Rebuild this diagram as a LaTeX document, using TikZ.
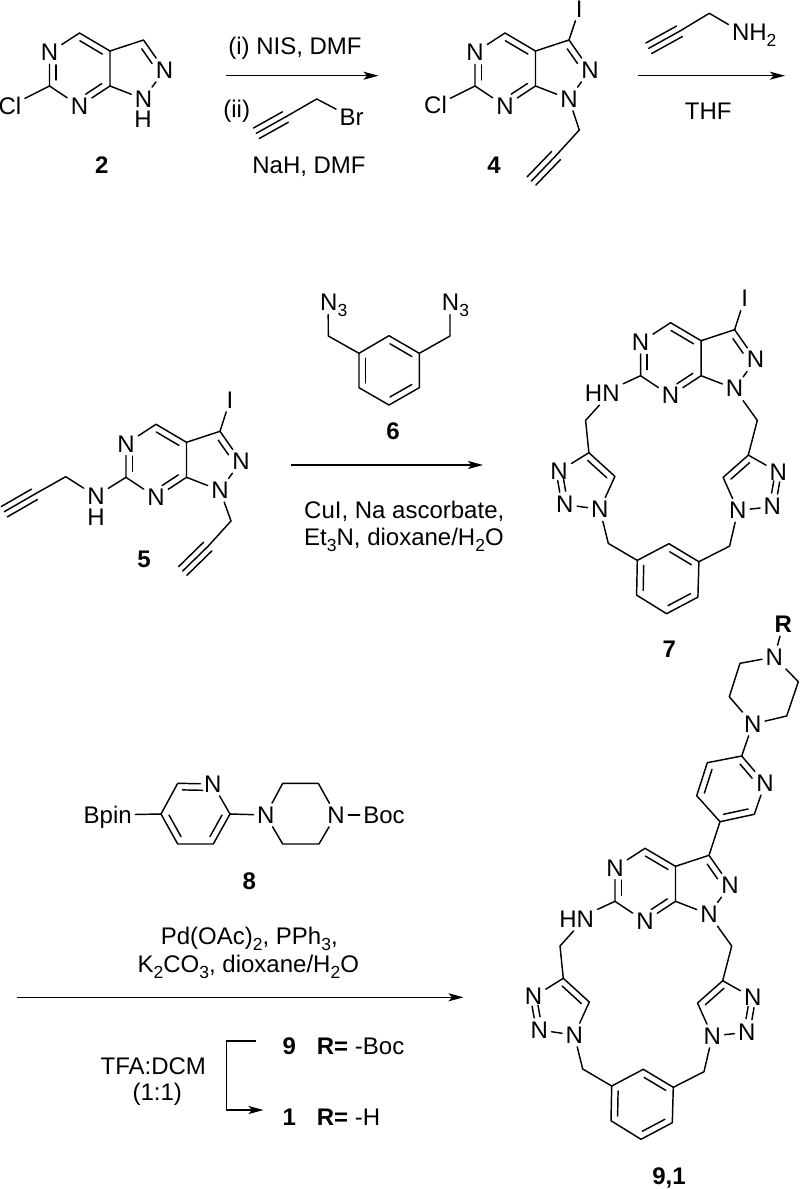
\documentclass[tikz,border=0pt]{standalone}
\usepackage{fontspec}
\setmainfont{Liberation Sans}
\usepackage{tikz}
\usetikzlibrary{calc}
\usetikzlibrary{arrows.meta}

\newcommand{\sbs}[1]{\raisebox{-0.24em}{\fontsize{17.5}{19}\selectfont #1}}
\newcommand{\sidebond}[5]{\draw[bond] ($(#1)!#4!(#2)!#3:(#2)$) -- ($(#1)!#5!(#2)!#3:(#2)$);}
\newcommand{\dbond}[4]{\sidebond{#1}{#2}{6.5pt!-90}{#3}{#4}}
\newcommand{\nnbond}[2]{\sidebond{#1}{#2}{3pt!90}{.27}{.62}\sidebond{#1}{#2}{3pt!-90}{.27}{.62}}
\newcommand{\tbond}[2]{\draw[bond] (#1) -- (#2);\sidebond{#1}{#2}{6pt!90}{0}{.98}\sidebond{#1}{#2}{6pt!-90}{0}{.98}}

\newcommand{\core}[3]{%
	\begin{scope}[shift={(#2,#3)}]
		\coordinate (#1c4) at (0,0);
		\node[atom] (#1n5) at (-30,19.5) {N};
		\coordinate (#1c3a) at (30.5,18);
		\coordinate (#1c6) at (-30,53);
		\node[atom] (#1n7) at (0,73) {N};
		\coordinate (#1c7a) at (30.5,53);
		\coordinate (#1c3) at (64,7);
		\node[atom] (#1n2) at (85,37) {N};
		\node[atom] (#1n1) at (64,66) {N};
		\draw[bond] (#1n5) -- (#1c4) -- (#1c3a) -- (#1c7a) -- (#1n7) -- (#1c6) -- (#1n5);
		\draw[bond] (#1c3a) -- (#1c3) -- (#1n2) -- (#1n1) -- (#1c7a);
		\dbond{#1c4}{#1c3a}{.12}{.86}
		\dbond{#1c7a}{#1n7}{.15}{.68}
		\dbond{#1c6}{#1n5}{.18}{.63}
		\dbond{#1c3}{#1n2}{.17}{.66}
	\end{scope}}

\newcommand{\macrocycle}[3]{%
	\core{#1}{#2+645}{#3+848.3}
	\begin{scope}[shift={(#2,#3)}]
		\node[atom] (#1hn) at (576.7,919) {HN};
		\coordinate (#1ch2a) at (560,946);
		\coordinate (#1ta4) at (563.3,978.3);
		\coordinate (#1ta5) at (589.3,1002);
		\node[atom] (#1ta1) at (574.3,1035) {N};
		\node[atom] (#1ta2) at (539.3,1030) {N};
		\node[atom] (#1ta3) at (533.5,996.7) {N};
		\coordinate (#1ch2b) at (731.7,946);
		\coordinate (#1tb4) at (722.7,980.7);
		\coordinate (#1tb5) at (697.5,1003);
		\node[atom] (#1tb1) at (712.3,1036) {N};
		\node[atom] (#1tb2) at (746.7,1032.3) {N};
		\node[atom] (#1tb3) at (752.7,997.7) {N};
		\coordinate (#1cha) at (582.7,1069);
		\coordinate (#1chb) at (704,1071.7);
		\coordinate (#1r1) at (611.7,1086);
		\coordinate (#1r2) at (643.3,1069.3);
		\coordinate (#1r3) at (673.3,1087.3);
		\coordinate (#1r4) at (672.3,1122.7);
		\coordinate (#1r5) at (641,1139.3);
		\coordinate (#1r6) at (611,1120.7);
		\draw[bond] (#1c6) -- (#1hn);
		\draw[bond] ([xshift=-3pt]#1hn.south) -- (#1ch2a) -- (#1ta4) -- (#1ta5) -- (#1ta1) -- (#1ta2);
		\draw[bond] (#1ta3) -- (#1ta4);
		\draw[bond] (#1n1) -- (#1ch2b) -- (#1tb4) -- (#1tb5) -- (#1tb1) -- (#1tb2);
		\draw[bond] (#1tb3) -- (#1tb4);
		\draw[bond] (#1ta1) -- (#1cha) -- (#1r1);
		\draw[bond] (#1r1) -- (#1r2) -- (#1r3) -- (#1r4) -- (#1r5) -- (#1r6) -- cycle;
		\draw[bond] (#1tb1) -- (#1chb) -- (#1r3);
		\dbond{#1ta4}{#1ta5}{.12}{.86}
		\dbond{#1tb5}{#1tb4}{.14}{.88}
		\nnbond{#1ta3}{#1ta2}
		\nnbond{#1tb3}{#1tb2}
		\dbond{#1r6}{#1r1}{.14}{.86}
		\dbond{#1r2}{#1r3}{.14}{.86}
		\dbond{#1r4}{#1r5}{.14}{.86}
	\end{scope}}

\begin{document}
\begin{tikzpicture}[x=1pt,y=-1pt,
		bond/.style={line width=1.45pt,line join=round,line cap=round},
		rxn/.style={line width=1.45pt,-{Stealth[length=15pt,width=8pt,inset=3.5pt]}},
		txt/.style={inner sep=0pt,text height=16.5pt,text depth=0pt,font=\fontsize{24}{28}\selectfont},
		atom/.style={txt,inner sep=3.4pt},
		num/.style={txt,font=\fontsize{24}{28}\selectfont\bfseries}]

	\useasboundingbox (0,0) rectangle (801,1189);

	\core{a}{79.5}{33}
	\node[atom] (acl) at (10,106) {Cl};
	\node[txt] (ah) at (143,119.5) {H};
	\draw[bond] (ac6) -- (acl);
	\node[num] (lab2) at (101.7,165.7) {2};

	\coordinate (arr1a) at (226,75.7);
	\coordinate (arr1b) at (378.5,75.7);
	\draw[rxn] (arr1a) -- (arr1b);
	\node[txt] (nis) at (295,46.3) {(i) NIS, DMF};
	\node[txt] (ii) at (236.7,109.5) {(ii)};
	\coordinate (bra) at (256.3,133.3);
	\coordinate (brb) at (286,116.7);
	\coordinate (brc) at (316.7,99);
	\node[atom] (brom) at (351.7,117.3) {Br};
	\tbond{bra}{brb}
	\draw[bond] (brb) -- (brc) -- (brom);
	\node[txt] (nah) at (309,165) {NaH, DMF};

	\core{b}{505}{33}
	\node[atom] (bcl) at (435.5,105.7) {Cl};
	\node[atom] (bi) at (579.3,9) {I};
	\coordinate (bch2) at (579.3,130);
	\coordinate (bya) at (556.5,155);
	\coordinate (byb) at (531.5,181);
	\draw[bond] (bc6) -- (bcl);
	\draw[bond] (bc3) -- (bi);
	\draw[bond] (bn1) -- (bch2) -- (bya);
	\tbond{byb}{bya}
	\node[num] (lab4) at (494,165) {4};

	\coordinate (arr2a) at (638.3,75.7);
	\coordinate (arr2b) at (785,75.7);
	\draw[rxn] (arr2a) -- (arr2b);
	\coordinate (ama) at (648.7,48.3);
	\coordinate (amb) at (680,31);
	\coordinate (amc) at (709.3,13.3);
	\node[atom] (amn) at (754.2,32.5) {NH\sbs{2}};
	\tbond{ama}{amb}
	\draw[bond] (amb) -- (amc) -- ([yshift=8pt]amn.west);
	\node[txt] (thf) at (708.3,111) {THF};

	\core{c}{156}{424.3}
	\node[atom] (ci) at (230,400) {I};
	\node[atom] (cnh) at (96,496) {N};
	\node[txt] (chh) at (96,516.9) {H};
	\coordinate (cch2a) at (65.7,476.7);
	\coordinate (cya) at (35,494);
	\coordinate (cyb) at (4.3,511.7);
	\coordinate (cch2b) at (231,521);
	\coordinate (czz) at (208.3,546);
	\coordinate (czy) at (182.7,571);
	\draw[bond] (cc3) -- (ci);
	\draw[bond] (cc6) -- (cnh) -- (cch2a) -- (cya);
	\tbond{cyb}{cya}
	\draw[bond] (cn1) -- (cch2b) -- (czz);
	\tbond{czy}{czz}
	\node[num] (lab5) at (144,559.3) {5};

	\coordinate (arr3a) at (291,465);
	\coordinate (arr3b) at (483,465);
	\draw[rxn] (arr3a) -- (arr3b);
	\node[atom] (aza) at (333.7,302.7) {N\sbs{3}};
	\node[atom] (azb) at (455.5,302.7) {N\sbs{3}};
	\coordinate (dch2a) at (328.3,336);
	\coordinate (dch2b) at (450,336);
	\coordinate (dr1) at (359,353.3);
	\coordinate (dr2) at (389,335.7);
	\coordinate (dr3) at (419.3,353.3);
	\coordinate (dr4) at (419.3,387.7);
	\coordinate (dr5) at (389,405);
	\coordinate (dr6) at (359,387.7);
	\draw[bond] ([xshift=-5.5pt]aza.south) -- (dch2a) -- (dr1);
	\draw[bond] (dr1) -- (dr2) -- (dr3) -- (dr4) -- (dr5) -- (dr6) -- cycle;
	\draw[bond] ([xshift=-5.5pt]azb.south) -- (dch2b) -- (dr3);
	\dbond{dr6}{dr1}{.14}{.86}
	\dbond{dr2}{dr3}{.14}{.86}
	\dbond{dr4}{dr5}{.14}{.86}
	\node[num] (lab6) at (393,431) {6};
	\node[txt,anchor=west] (cui) at (304,510) {CuI, Na ascorbate,};
	\node[txt,anchor=west] (et3n) at (304,537) {Et\sbs{3}N, dioxane/H\sbs{2}O};

	\macrocycle{d}{25.6}{-525.6}
	\node[atom] (di) at ($(dc3)+(10,-31)$) {I};
	\draw[bond] (dc3) -- (di);
	\node[num] (lab7) at (669.3,649.3) {7};

	\node[atom] (ebpin) at (107.7,815) {Bpin};
	\coordinate (ep1) at (161,814);
	\coordinate (ep2) at (177.7,783.3);
	\node[atom] (epn) at (212.7,784) {N};
	\coordinate (ep4) at (230,814);
	\coordinate (ep5) at (213.3,844);
	\coordinate (ep6) at (177.7,844);
	\node[atom] (ena) at (265.7,815) {N};
	\coordinate (eq1) at (282.7,783.3);
	\coordinate (eq2) at (318.3,783.3);
	\node[atom] (enb) at (336,815) {N};
	\coordinate (eq3) at (319,844);
	\coordinate (eq4) at (282.7,844);
	\node[atom] (eboc) at (384,815) {Boc};
	\draw[bond] (ebpin) -- (ep1) -- (ep2) -- (epn) -- (ep4) -- (ep5) -- (ep6) -- (ep1);
	\draw[bond] (ep4) -- (ena) -- (eq1) -- (eq2) -- (enb) -- (eq3) -- (eq4) -- (ena);
	\draw[bond] (enb) -- (eboc);
	\dbond{ep2}{epn}{.14}{.72}
	\dbond{ep4}{ep5}{.14}{.86}
	\dbond{ep6}{ep1}{.14}{.86}
	\node[num] (lab8) at (249.3,881.7) {8};
	\node[txt] (pd) at (249.3,936.5) {Pd(OAc)\sbs{2}, PPh\sbs{3},};
	\node[txt] (k2co3) at (248.3,964.3) {K\sbs{2}CO\sbs{3}, dioxane/H\sbs{2}O};
	\coordinate (arr4a) at (16.7,997.3);
	\coordinate (arr4b) at (463.5,997.3);
	\draw[rxn] (arr4a) -- (arr4b);
	\node[txt] (tfa) at (153.3,1066) {TFA:DCM};
	\node[txt] (ratio) at (157.3,1092.7) {(1:1)};
	\coordinate (bka) at (256,1041);
	\coordinate (bkb) at (226.7,1041);
	\coordinate (bkc) at (226.7,1110);
	\coordinate (bkd) at (263.5,1110);
	\draw[rxn] (bka) -- (bkb) -- (bkc) -- (bkd);
	\node[num] (lab9) at (289.3,1046) {9};
	\node[txt,anchor=west] (rboc) at (316.7,1046) {\textbf{R=} -Boc};
	\node[num] (lab1) at (289.3,1117.3) {1};
	\node[txt,anchor=west] (rh) at (316.7,1117.3) {\textbf{R=} -H};

	\macrocycle{f}{0}{0}
	\coordinate (fp5) at (720,821.7);
	\coordinate (fp6) at (754.3,814.3);
	\node[atom] (fpn) at (765,783.3) {N};
	\coordinate (fp2) at (741.7,756);
	\coordinate (fp3) at (707.3,762.7);
	\coordinate (fp4) at (696.7,795.7);
	\node[atom] (fna) at (752.7,724) {N};
	\coordinate (fq1) at (729.3,696.7);
	\coordinate (fq2) at (740,663.3);
	\node[atom] (fnb) at (774.3,657) {N};
	\coordinate (fq3) at (798.3,681.7);
	\coordinate (fq4) at (786.7,716);
	\node[num,inner sep=3.4pt] (fr) at (783.3,624.3) {R};
	\draw[bond] (fc3) -- (fp5) -- (fp6) -- (fpn) -- (fp2) -- (fp3) -- (fp4) -- (fp5);
	\draw[bond] (fp2) -- (fna) -- (fq1) -- (fq2) -- (fnb) -- (fq3) -- (fq4) -- (fna);
	\draw[bond] (fnb) -- (fr);
	\dbond{fp2}{fpn}{.14}{.66}
	\dbond{fp6}{fp5}{.14}{.86}
	\dbond{fp4}{fp3}{.14}{.86}
	\node[num] (lab91) at (669,1176.7) {9,1};
\end{tikzpicture}
\end{document}
